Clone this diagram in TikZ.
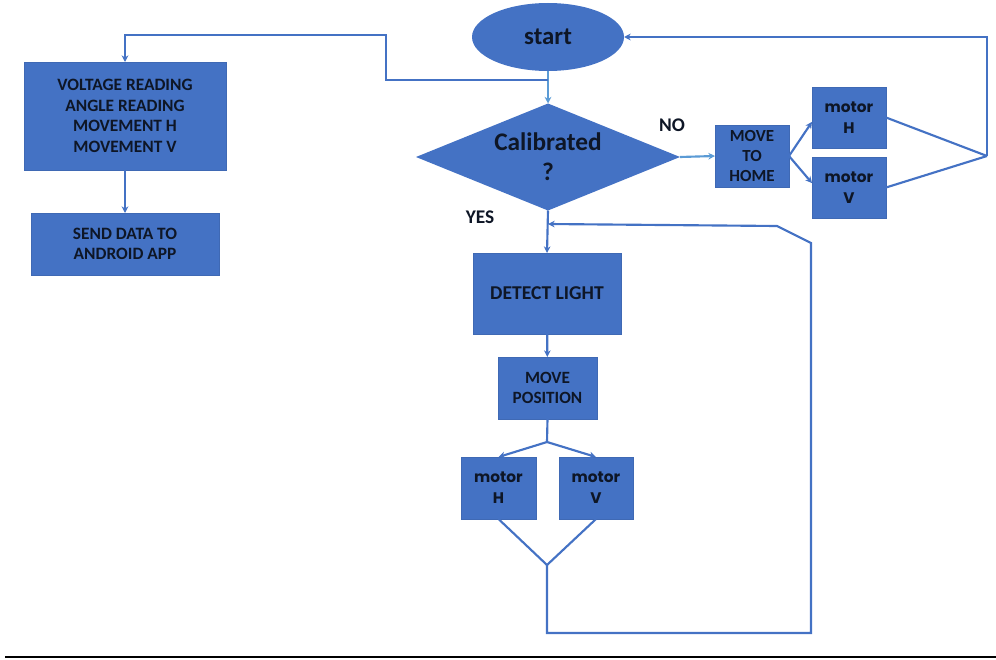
\documentclass[tikz,border=0pt]{standalone}
\usepackage{fontspec}
\setmainfont{Carlito}
\newfontfamily\motorfont{Poppins}
\usetikzlibrary{shapes.geometric,arrows.meta}
\definecolor{boxblue}{HTML}{4472C4}
\definecolor{lineblue}{HTML}{4472C4}
\definecolor{lightblue}{HTML}{5B9BD5}
\definecolor{ink}{HTML}{0E1626}

\begin{document}
\begin{tikzpicture}[x=0.75pt,y=-0.75pt,
  box/.style={rectangle,fill=boxblue,draw=boxblue!92!black,line width=0.4pt,
    inner sep=0pt,outer sep=0pt,text=ink,align=center,
    font=\bfseries\fontsize{13}{15.4}\selectfont},
  motorbox/.style={box,font=\motorfont\bfseries\fontsize{11.5}{15.75}\selectfont},
  link/.style={draw=lineblue,line width=1.6pt},
  flow/.style={link,-{Stealth[length=5pt,width=5pt]}},
  lightflow/.style={flow,draw=lightblue},
  tag/.style={text=ink,font=\bfseries\fontsize{14.5}{17}\selectfont}]

\useasboundingbox (0,0) rectangle (996,660);

% terminal and decision
\node[ellipse,fill=boxblue,minimum width=114pt,minimum height=51pt,inner sep=0pt,
  outer sep=0pt,text=ink,font=\bfseries\fontsize{18.6}{22}\selectfont]
  (start) at (548,37) {start};
\node[diamond,aspect=2.47,fill=boxblue,minimum width=198pt,minimum height=80.25pt,
  inner sep=0pt,outer sep=0pt,text=ink,align=center,
  font=\bfseries\fontsize{19}{22.5}\selectfont]
  (cal) at (548,157) {Calibrated\\?};

% data branch
\node[box,minimum width=151.5pt,minimum height=81pt] (read) at (125,116)
  {VOLTAGE READING\\ANGLE READING\\MOVEMENT H\\MOVEMENT V};
\node[box,minimum width=141pt,minimum height=46.5pt] (send) at (125,244)
  {SEND DATA TO\\ANDROID APP};

% homing branch
\node[box,minimum width=55.5pt,minimum height=46.5pt,
  font=\bfseries\fontsize{12.7}{15}\selectfont] (home) at (752,156) {MOVE\\TO\\HOME};
\node[motorbox,minimum width=55.5pt,minimum height=45.75pt] (hmh) at (849,117.5) {motor\\H};
\node[motorbox,minimum width=55.5pt,minimum height=45.75pt] (hmv) at (849,187.5) {motor\\V};

% tracking branch
\node[box,minimum width=111pt,minimum height=60.75pt,
  font=\bfseries\fontsize{14.7}{17}\selectfont] (detect) at (547,293.5) {DETECT LIGHT};
\node[box,minimum width=74.25pt,minimum height=46.5pt,
  font=\bfseries\fontsize{12.9}{15}\selectfont] (move) at (547.5,388) {MOVE\\POSITION};
\node[motorbox,minimum width=56.25pt,minimum height=46.5pt] (pmh) at (498.5,488) {motor\\H};
\node[motorbox,minimum width=55.5pt,minimum height=46.5pt] (pmv) at (596,488) {motor\\V};

% branch labels
\node[tag] (no) at (672,125) {NO};
\node[tag] (yes) at (480,217) {YES};

% junction points
\coordinate (split) at (548,80);
\coordinate (jn) at (987,156);
\coordinate (fork) at (547,442);
\coordinate (merge) at (547,565);
\coordinate (rejoin) at (548,224);

% connectors
\draw[lightflow] (start.south) -- (cal.north);
\draw[flow] (split) -- (386,80) -- (386,35) -- (125,35) -- (read.north);
\draw[flow] (read) -- (send);

\draw[lightflow] (cal.east) -- (home.west);
\draw[flow] (home.east) -- ([yshift=-3.3pt]hmh.west);
\draw[flow] (home.east) -- ([yshift=3.3pt]hmv.west);
\draw[link] (hmh.east) -- (jn);
\draw[link] (hmv.east) -- (jn);
\draw[flow] (jn) -- (987,37) -- (start.east);

\draw[flow] (cal.south) -- (detect.north);
\draw[flow] (detect) -- (move);
\draw[link] (move.south) -- (fork);
\draw[flow] (fork) -- (pmh.north);
\draw[flow] (fork) -- (pmv.north);
\draw[link] (pmh.south) -- (merge);
\draw[link] (pmv.south) -- (merge);
\draw[flow] (merge) -- (547,633) -- (811,633) -- (811,243) -- (777,226) -- (rejoin);

% rule under the chart
\draw[black,line width=2pt] (5,657) -- (996,657);
\end{tikzpicture}
\end{document}
